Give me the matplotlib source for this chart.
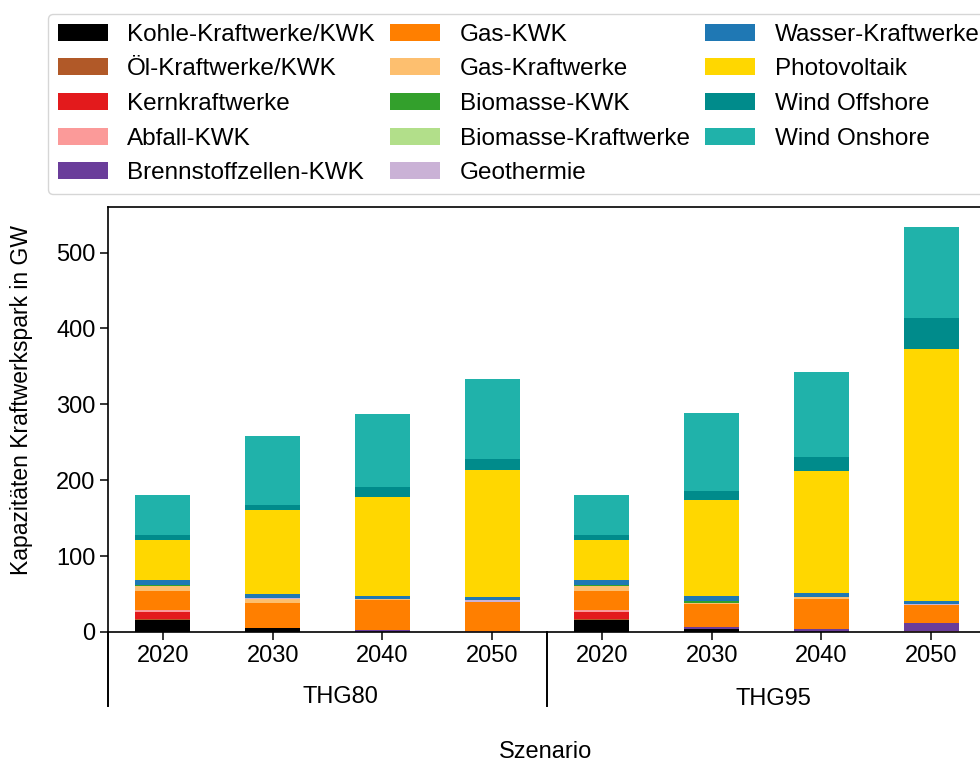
import numpy as np
import matplotlib
matplotlib.use('Agg')
import matplotlib.pyplot as plt
import matplotlib.transforms as mtransforms

plt.rcParams['font.family'] = ['Liberation Sans', 'DejaVu Sans']
plt.rcParams['axes.linewidth'] = 1.2

# Data (GW), order: THG80 2020..2050, THG95 2020..2050
years = ['2020', '2030', '2040', '2050', '2020', '2030', '2040', '2050']
scenarios = ['THG80', 'THG95']

kohle = [16, 5, 0.5, 0, 16, 4.5, 0.5, 0]
oel = [1, 0.5, 0, 0, 1, 0, 0, 0]
kern = [9.5, 0, 0, 0, 9.5, 0, 0, 0]
abfall = [2.5, 0, 0, 1, 2.5, 0, 0, 1.5]
brennstoffzellen = [0, 0, 2, 0, 0, 2, 4, 10]
gas_kwk = [25, 33, 39.5, 38.5, 25, 31, 39.5, 23.5]
gas_kw = [6.5, 5.5, 1, 0.5, 6.5, 1.3, 1.5, 0]
bio_kwk = [1.5, 0, 0, 0, 1.5, 2, 0, 0]
bio_kw = [0.5, 0, 0, 0, 0.5, 0, 0, 0]
geothermie = [0, 0.5, 0, 2, 0, 0, 0.5, 1.5]
wasser = [5.5, 5, 4.5, 3.5, 5.5, 7, 5, 4.5]
pv = [53, 111, 130.7, 168.4, 53, 126.4, 160.8, 331.5]
offshore = [7, 7, 13.2, 14, 7, 11.4, 18.9, 41.7]
onshore = [52, 90.5, 96.5, 105.6, 52, 103.5, 112.3, 119]

series = [
    ('Kohle-Kraftwerke/KWK', kohle, '#000000'),
    ('Öl-Kraftwerke/KWK', oel, '#b15928'),
    ('Kernkraftwerke', kern, '#e31a1c'),
    ('Abfall-KWK', abfall, '#fb9a99'),
    ('Brennstoffzellen-KWK', brennstoffzellen, '#6a3d9a'),
    ('Gas-KWK', gas_kwk, '#ff7f00'),
    ('Gas-Kraftwerke', gas_kw, '#fdbf6f'),
    ('Biomasse-KWK', bio_kwk, '#33a02c'),
    ('Biomasse-Kraftwerke', bio_kw, '#b2df8a'),
    ('Geothermie', geothermie, '#cab2d6'),
    ('Wasser-Kraftwerke', wasser, '#1f78b4'),
    ('Photovoltaik', pv, '#ffd700'),
    ('Wind Offshore', offshore, '#008b8b'),
    ('Wind Onshore', onshore, '#20b2aa'),
]

fig = plt.figure(figsize=(9.8, 7.63), dpi=100)
ax = fig.add_axes([108 / 980, 1 - 632 / 763, 878 / 980, 425 / 763])

x = np.arange(len(years))
bottom = np.zeros(len(years))
for label, vals, color in series:
    vals = np.array(vals, dtype=float)
    ax.bar(x, vals, 0.5, bottom=bottom, color=color, label=label, linewidth=0)
    bottom += vals

ax.set_xlim(-0.5, 7.5)
ax.set_ylim(0, 560)
ax.set_xticks(x)
ax.set_xticklabels(years)
ax.tick_params(labelsize=17, length=5.5, width=1.1)

ax.set_ylabel('Kapazitäten Kraftwerkspark in GW', fontsize=16.5)
ax.yaxis.set_label_coords(-0.085, 0.545)
fig.text(546 / 980, 1 - 752 / 763, 'Szenario', ha='center', va='center', fontsize=17)

# group separators and labels under the x axis
trans = mtransforms.blended_transform_factory(ax.transData, ax.transAxes)
for xs in [-0.5, 3.5, 7.5]:
    ax.plot([xs, xs], [0, -0.175], color='black', lw=1.4, transform=trans, clip_on=False)
ax.text(1.62, -0.153, scenarios[0], transform=trans, ha='center', va='center', fontsize=17)
ax.text(5.56, -0.158, scenarios[1], transform=trans, ha='center', va='center', fontsize=17)

ax.legend(loc='upper left', bbox_to_anchor=(48 / 980, 1 - 14 / 763), bbox_transform=fig.transFigure,
          borderaxespad=0, ncol=3, fontsize=17.5, labelspacing=0.52, columnspacing=0.65,
          handlelength=2.05, handletextpad=0.8)

plt.savefig('out.png', dpi=100)
